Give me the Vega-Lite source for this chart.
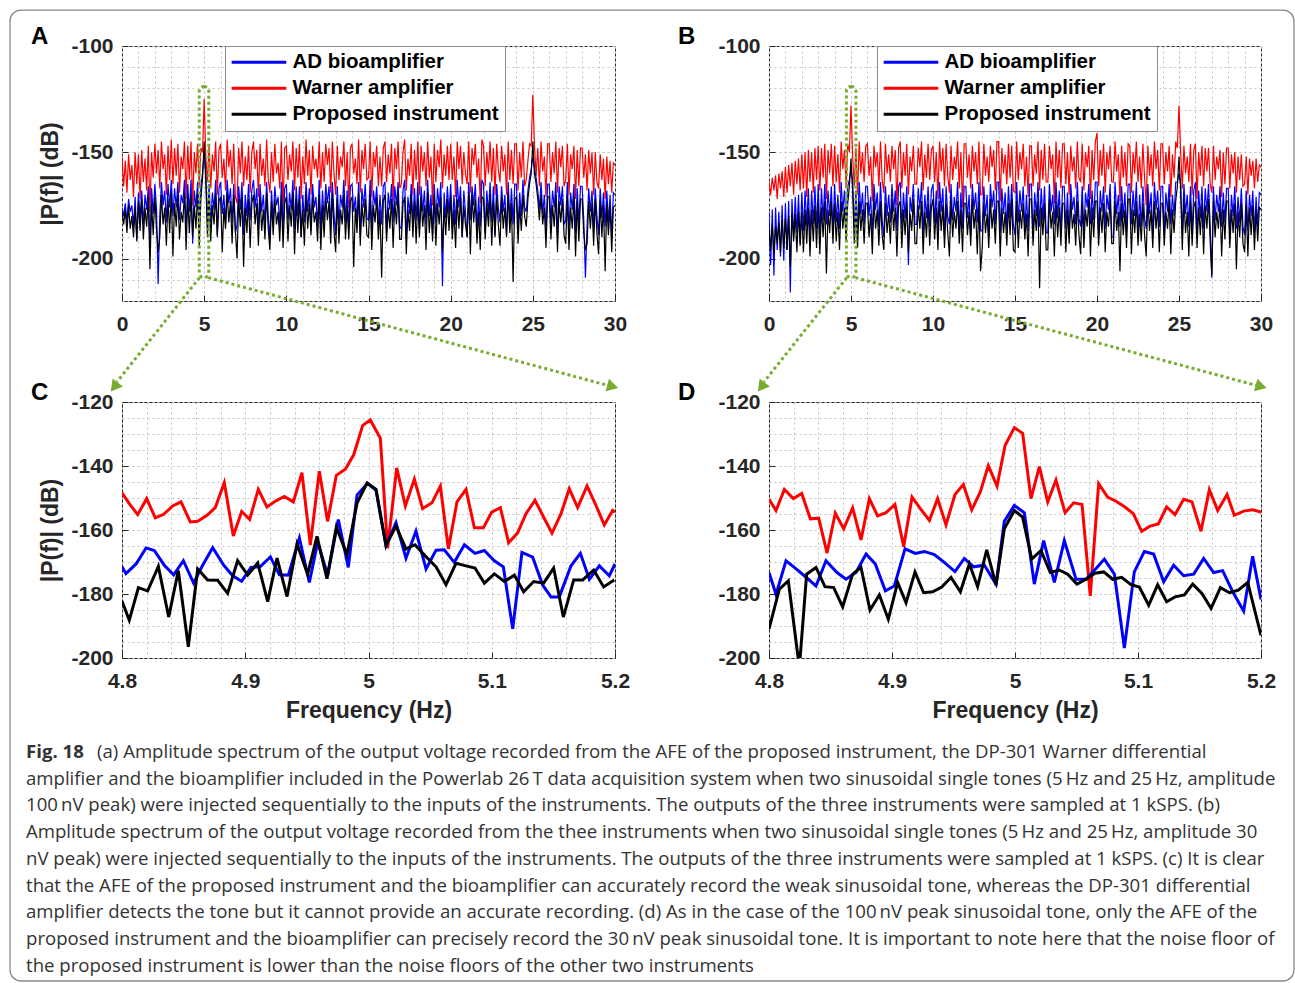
{
"$schema":"https://vega.github.io/schema/vega-lite/v6.json",
"padding":{"left":9,"top":9,"right":2,"bottom":2},
"background":"white",
"columns":2,
"spacing":{"row":101,"column":154},
"bounds":"flush",
"resolve":{"scale":{"color":"independent"},"legend":{"color":"independent"}},
"datasets":{
"specA":[
{"f":0,"W":-152,"AD":-176,"P":-178},{"f":0.1,"W":-166,"AD":-180,"P":-184},{"f":0.2,"W":-154,"AD":-174,"P":-177},{"f":0.3,"W":-169,"AD":-183,"P":-188},{"f":0.4,"W":-151,"AD":-172,"P":-175},{"f":0.5,"W":-163,"AD":-178,"P":-186},{"f":0.6,"W":-156,"AD":-175,"P":-180},{"f":0.7,"W":-171,"AD":-185,"P":-190},{"f":0.8,"W":-150,"AD":-171,"P":-176},{"f":0.9,"W":-165,"AD":-191,"P":-192},
{"f":1,"W":-151,"AD":-169,"P":-173},{"f":1.1,"W":-172,"AD":-181,"P":-187},{"f":1.2,"W":-149,"AD":-168,"P":-172},{"f":1.3,"W":-164,"AD":-184,"P":-191},{"f":1.4,"W":-153,"AD":-170,"P":-176},{"f":1.5,"W":-168,"AD":-177,"P":-185},{"f":1.6,"W":-147,"AD":-166,"P":-171},{"f":1.7,"W":-178,"AD":-195,"P":-205},{"f":1.8,"W":-150,"AD":-167,"P":-174},{"f":1.9,"W":-162,"AD":-179,"P":-189},
{"f":2,"W":-146,"AD":-165,"P":-171},{"f":2.1,"W":-160,"AD":-177,"P":-186},{"f":2.2,"W":-149,"AD":-212,"P":-197},{"f":2.3,"W":-167,"AD":-180,"P":-190},{"f":2.4,"W":-145,"AD":-164,"P":-170},{"f":2.5,"W":-158,"AD":-175,"P":-184},{"f":2.6,"W":-151,"AD":-168,"P":-176},{"f":2.7,"W":-170,"AD":-183,"P":-194},{"f":2.8,"W":-147,"AD":-165,"P":-172},{"f":2.9,"W":-163,"AD":-176,"P":-188},
{"f":3,"W":-144,"AD":-163,"P":-169},{"f":3.1,"W":-165,"AD":-180,"P":-199},{"f":3.2,"W":-148,"AD":-167,"P":-174},{"f":3.3,"W":-161,"AD":-176,"P":-185},{"f":3.4,"W":-146,"AD":-164,"P":-170},{"f":3.5,"W":-169,"AD":-182,"P":-191},{"f":3.6,"W":-152,"AD":-170,"P":-178},{"f":3.7,"W":-158,"AD":-174,"P":-183},{"f":3.8,"W":-145,"AD":-163,"P":-169},{"f":3.9,"W":-172,"AD":-187,"P":-196},
{"f":4,"W":-147,"AD":-165,"P":-171},{"f":4.1,"W":-163,"AD":-178,"P":-188},{"f":4.2,"W":-145,"AD":-163,"P":-170},{"f":4.3,"W":-175,"AD":-193,"P":-190},{"f":4.4,"W":-150,"AD":-168,"P":-175},{"f":4.5,"W":-160,"AD":-176,"P":-186},{"f":4.6,"W":-146,"AD":-164,"P":-169},{"f":4.7,"W":-166,"AD":-181,"P":-194},{"f":4.8,"W":-148,"AD":-166,"P":-172},{"f":4.9,"W":-150,"AD":-160,"P":-162},
{"f":5,"W":-125,"AD":-150,"P":-145},{"f":5.1,"W":-152,"AD":-161,"P":-163},{"f":5.2,"W":-164,"AD":-182,"P":-190},{"f":5.3,"W":-147,"AD":-165,"P":-171},{"f":5.4,"W":-167,"AD":-185,"P":-192},{"f":5.5,"W":-151,"AD":-169,"P":-175},{"f":5.6,"W":-159,"AD":-177,"P":-184},{"f":5.7,"W":-145,"AD":-163,"P":-170},{"f":5.8,"W":-170,"AD":-190,"P":-189},{"f":5.9,"W":-149,"AD":-167,"P":-173},
{"f":6,"W":-146,"AD":-164,"P":-171},{"f":6.1,"W":-162,"AD":-179,"P":-197},{"f":6.2,"W":-153,"AD":-170,"P":-176},{"f":6.3,"W":-168,"AD":-184,"P":-186},{"f":6.4,"W":-144,"AD":-163,"P":-169},{"f":6.5,"W":-157,"AD":-174,"P":-183},{"f":6.6,"W":-149,"AD":-167,"P":-173},{"f":6.7,"W":-165,"AD":-183,"P":-193},{"f":6.8,"W":-146,"AD":-165,"P":-170},{"f":6.9,"W":-171,"AD":-188,"P":-187},
{"f":7,"W":-174,"AD":-184,"P":-200},{"f":7.1,"W":-148,"AD":-166,"P":-172},{"f":7.2,"W":-160,"AD":-177,"P":-185},{"f":7.3,"W":-145,"AD":-164,"P":-171},{"f":7.4,"W":-166,"AD":-189,"P":-204},{"f":7.5,"W":-152,"AD":-170,"P":-176},{"f":7.6,"W":-163,"AD":-180,"P":-188},{"f":7.7,"W":-147,"AD":-165,"P":-172},{"f":7.8,"W":-169,"AD":-182,"P":-195},{"f":7.9,"W":-150,"AD":-168,"P":-174},
{"f":8,"W":-145,"AD":-163,"P":-170},{"f":8.1,"W":-158,"AD":-176,"P":-184},{"f":8.2,"W":-149,"AD":-167,"P":-174},{"f":8.3,"W":-171,"AD":-186,"P":-194},{"f":8.4,"W":-146,"AD":-165,"P":-171},{"f":8.5,"W":-161,"AD":-178,"P":-187},{"f":8.6,"W":-153,"AD":-170,"P":-177},{"f":8.7,"W":-166,"AD":-184,"P":-191},{"f":8.8,"W":-144,"AD":-164,"P":-169},{"f":8.9,"W":-163,"AD":-180,"P":-186},
{"f":9,"W":-169,"AD":-191,"P":-196},{"f":9.1,"W":-150,"AD":-168,"P":-173},{"f":9.2,"W":-164,"AD":-183,"P":-189},{"f":9.3,"W":-146,"AD":-166,"P":-172},{"f":9.4,"W":-160,"AD":-175,"P":-184},{"f":9.5,"W":-155,"AD":-171,"P":-178},{"f":9.6,"W":-167,"AD":-185,"P":-192},{"f":9.7,"W":-145,"AD":-164,"P":-170},{"f":9.8,"W":-177,"AD":-188,"P":-195},{"f":9.9,"W":-148,"AD":-167,"P":-174},
{"f":10,"W":-147,"AD":-165,"P":-171},{"f":10.1,"W":-163,"AD":-182,"P":-192},{"f":10.2,"W":-151,"AD":-169,"P":-175},{"f":10.3,"W":-159,"AD":-177,"P":-185},{"f":10.4,"W":-145,"AD":-163,"P":-169},{"f":10.5,"W":-168,"AD":-186,"P":-198},{"f":10.6,"W":-148,"AD":-166,"P":-172},{"f":10.7,"W":-162,"AD":-180,"P":-188},{"f":10.8,"W":-146,"AD":-166,"P":-172},{"f":10.9,"W":-172,"AD":-190,"P":-190},
{"f":11,"W":-152,"AD":-170,"P":-177},{"f":11.1,"W":-165,"AD":-183,"P":-194},{"f":11.2,"W":-144,"AD":-164,"P":-170},{"f":11.3,"W":-161,"AD":-178,"P":-186},{"f":11.4,"W":-149,"AD":-167,"P":-174},{"f":11.5,"W":-170,"AD":-187,"P":-189},{"f":11.6,"W":-147,"AD":-165,"P":-171},{"f":11.7,"W":-158,"AD":-176,"P":-183},{"f":11.8,"W":-153,"AD":-171,"P":-178},{"f":11.9,"W":-162,"AD":-185,"P":-192},
{"f":12,"W":-145,"AD":-163,"P":-170},{"f":12.1,"W":-167,"AD":-187,"P":-196},{"f":12.2,"W":-150,"AD":-168,"P":-175},{"f":12.3,"W":-164,"AD":-182,"P":-190},{"f":12.4,"W":-146,"AD":-165,"P":-171},{"f":12.5,"W":-156,"AD":-174,"P":-182},{"f":12.6,"W":-148,"AD":-166,"P":-173},{"f":12.7,"W":-169,"AD":-185,"P":-193},{"f":12.8,"W":-145,"AD":-164,"P":-169},{"f":12.9,"W":-160,"AD":-179,"P":-187},
{"f":13,"W":-170,"AD":-189,"P":-197},{"f":13.1,"W":-147,"AD":-166,"P":-172},{"f":13.2,"W":-163,"AD":-184,"P":-193},{"f":13.3,"W":-152,"AD":-170,"P":-177},{"f":13.4,"W":-157,"AD":-176,"P":-184},{"f":13.5,"W":-145,"AD":-163,"P":-170},{"f":13.6,"W":-166,"AD":-183,"P":-191},{"f":13.7,"W":-150,"AD":-168,"P":-175},{"f":13.8,"W":-176,"AD":-186,"P":-191},{"f":13.9,"W":-148,"AD":-166,"P":-173},
{"f":14,"W":-146,"AD":-165,"P":-171},{"f":14.1,"W":-160,"AD":-178,"P":-204},{"f":14.2,"W":-153,"AD":-171,"P":-176},{"f":14.3,"W":-165,"AD":-183,"P":-188},{"f":14.4,"W":-144,"AD":-164,"P":-169},{"f":14.5,"W":-169,"AD":-190,"P":-194},{"f":14.6,"W":-149,"AD":-167,"P":-174},{"f":14.7,"W":-158,"AD":-176,"P":-185},{"f":14.8,"W":-146,"AD":-165,"P":-172},{"f":14.9,"W":-163,"AD":-181,"P":-189},
{"f":15,"W":-162,"AD":-182,"P":-190},{"f":15.1,"W":-145,"AD":-163,"P":-170},{"f":15.2,"W":-171,"AD":-187,"P":-196},{"f":15.3,"W":-150,"AD":-168,"P":-175},{"f":15.4,"W":-157,"AD":-175,"P":-183},{"f":15.5,"W":-147,"AD":-166,"P":-171},{"f":15.6,"W":-166,"AD":-184,"P":-191},{"f":15.7,"W":-152,"AD":-170,"P":-177},{"f":15.8,"W":-166,"AD":-184,"P":-209},{"f":15.9,"W":-148,"AD":-166,"P":-173},
{"f":16,"W":-145,"AD":-164,"P":-170},{"f":16.1,"W":-164,"AD":-188,"P":-192},{"f":16.2,"W":-151,"AD":-169,"P":-176},{"f":16.3,"W":-160,"AD":-177,"P":-186},{"f":16.4,"W":-146,"AD":-165,"P":-172},{"f":16.5,"W":-173,"AD":-183,"P":-195},{"f":16.6,"W":-148,"AD":-166,"P":-173},{"f":16.7,"W":-158,"AD":-175,"P":-184},{"f":16.8,"W":-145,"AD":-164,"P":-169},{"f":16.9,"W":-167,"AD":-185,"P":-191},
{"f":17,"W":-165,"AD":-186,"P":-191},{"f":17.1,"W":-150,"AD":-168,"P":-174},{"f":17.2,"W":-144,"AD":-163,"P":-171},{"f":17.3,"W":-168,"AD":-191,"P":-198},{"f":17.4,"W":-153,"AD":-171,"P":-177},{"f":17.5,"W":-161,"AD":-179,"P":-187},{"f":17.6,"W":-146,"AD":-165,"P":-170},{"f":17.7,"W":-170,"AD":-184,"P":-190},{"f":17.8,"W":-149,"AD":-167,"P":-173},{"f":17.9,"W":-163,"AD":-182,"P":-193},
{"f":18,"W":-145,"AD":-164,"P":-172},{"f":18.1,"W":-170,"AD":-187,"P":-190},{"f":18.2,"W":-147,"AD":-166,"P":-171},{"f":18.3,"W":-159,"AD":-178,"P":-185},{"f":18.4,"W":-150,"AD":-168,"P":-175},{"f":18.5,"W":-166,"AD":-184,"P":-196},{"f":18.6,"W":-145,"AD":-163,"P":-169},{"f":18.7,"W":-162,"AD":-180,"P":-188},{"f":18.8,"W":-152,"AD":-170,"P":-176},{"f":18.9,"W":-175,"AD":-189,"P":-192},
{"f":19,"W":-146,"AD":-165,"P":-170},{"f":19.1,"W":-164,"AD":-183,"P":-194},{"f":19.2,"W":-149,"AD":-167,"P":-174},{"f":19.3,"W":-157,"AD":-176,"P":-184},{"f":19.4,"W":-144,"AD":-164,"P":-171},{"f":19.5,"W":-167,"AD":-213,"P":-197},{"f":19.6,"W":-151,"AD":-169,"P":-176},{"f":19.7,"W":-161,"AD":-181,"P":-189},{"f":19.8,"W":-147,"AD":-166,"P":-172},{"f":19.9,"W":-163,"AD":-179,"P":-187},
{"f":20,"W":-146,"AD":-165,"P":-170},{"f":20.1,"W":-163,"AD":-186,"P":-191},{"f":20.2,"W":-152,"AD":-170,"P":-177},{"f":20.3,"W":-171,"AD":-184,"P":-195},{"f":20.4,"W":-145,"AD":-163,"P":-172},{"f":20.5,"W":-158,"AD":-176,"P":-186},{"f":20.6,"W":-147,"AD":-166,"P":-171},{"f":20.7,"W":-165,"AD":-190,"P":-190},{"f":20.8,"W":-150,"AD":-168,"P":-175},{"f":20.9,"W":-160,"AD":-178,"P":-184},
{"f":21,"W":-165,"AD":-190,"P":-190},{"f":21.1,"W":-145,"AD":-164,"P":-169},{"f":21.2,"W":-169,"AD":-182,"P":-198},{"f":21.3,"W":-148,"AD":-166,"P":-170},{"f":21.4,"W":-156,"AD":-175,"P":-183},{"f":21.5,"W":-146,"AD":-165,"P":-172},{"f":21.6,"W":-162,"AD":-187,"P":-193},{"f":21.7,"W":-153,"AD":-171,"P":-178},{"f":21.8,"W":-174,"AD":-185,"P":-196},{"f":21.9,"W":-144,"AD":-163,"P":-171},
{"f":22,"W":-147,"AD":-165,"P":-172},{"f":22.1,"W":-166,"AD":-188,"P":-191},{"f":22.2,"W":-150,"AD":-168,"P":-174},{"f":22.3,"W":-160,"AD":-179,"P":-185},{"f":22.4,"W":-145,"AD":-164,"P":-170},{"f":22.5,"W":-164,"AD":-183,"P":-194},{"f":22.6,"W":-148,"AD":-166,"P":-173},{"f":22.7,"W":-170,"AD":-189,"P":-190},{"f":22.8,"W":-146,"AD":-165,"P":-171},{"f":22.9,"W":-158,"AD":-176,"P":-184},
{"f":23,"W":-164,"AD":-183,"P":-194},{"f":23.1,"W":-147,"AD":-166,"P":-171},{"f":23.2,"W":-159,"AD":-178,"P":-186},{"f":23.3,"W":-151,"AD":-170,"P":-176},{"f":23.4,"W":-170,"AD":-189,"P":-190},{"f":23.5,"W":-145,"AD":-164,"P":-169},{"f":23.6,"W":-163,"AD":-182,"P":-188},{"f":23.7,"W":-149,"AD":-167,"P":-174},{"f":23.8,"W":-165,"AD":-184,"P":-211},{"f":23.9,"W":-146,"AD":-165,"P":-172},
{"f":24,"W":-146,"AD":-165,"P":-171},{"f":24.1,"W":-168,"AD":-186,"P":-193},{"f":24.2,"W":-150,"AD":-169,"P":-175},{"f":24.3,"W":-162,"AD":-180,"P":-187},{"f":24.4,"W":-145,"AD":-163,"P":-170},{"f":24.5,"W":-166,"AD":-176,"P":-180},{"f":24.6,"W":-163,"AD":-178,"P":-185},{"f":24.7,"W":-154,"AD":-168,"P":-172},{"f":24.8,"W":-146,"AD":-162,"P":-165},{"f":24.9,"W":-147,"AD":-158,"P":-160},
{"f":25,"W":-123,"AD":-152,"P":-145},{"f":25.1,"W":-147,"AD":-158,"P":-160},{"f":25.2,"W":-161,"AD":-162,"P":-165},{"f":25.3,"W":-148,"AD":-168,"P":-172},{"f":25.4,"W":-166,"AD":-177,"P":-182},{"f":25.5,"W":-145,"AD":-164,"P":-170},{"f":25.6,"W":-159,"AD":-179,"P":-184},{"f":25.7,"W":-152,"AD":-170,"P":-176},{"f":25.8,"W":-171,"AD":-187,"P":-195},{"f":25.9,"W":-146,"AD":-165,"P":-171},
{"f":26,"W":-146,"AD":-165,"P":-171},{"f":26.1,"W":-164,"AD":-183,"P":-191},{"f":26.2,"W":-150,"AD":-168,"P":-175},{"f":26.3,"W":-160,"AD":-176,"P":-185},{"f":26.4,"W":-145,"AD":-164,"P":-170},{"f":26.5,"W":-169,"AD":-190,"P":-197},{"f":26.6,"W":-148,"AD":-166,"P":-173},{"f":26.7,"W":-157,"AD":-175,"P":-183},{"f":26.8,"W":-147,"AD":-166,"P":-172},{"f":26.9,"W":-166,"AD":-184,"P":-189},
{"f":27,"W":-163,"AD":-182,"P":-193},{"f":27.1,"W":-146,"AD":-164,"P":-170},{"f":27.2,"W":-170,"AD":-188,"P":-196},{"f":27.3,"W":-151,"AD":-169,"P":-176},{"f":27.4,"W":-158,"AD":-177,"P":-186},{"f":27.5,"W":-147,"AD":-165,"P":-171},{"f":27.6,"W":-172,"AD":-188,"P":-199},{"f":27.7,"W":-149,"AD":-167,"P":-173},{"f":27.8,"W":-166,"AD":-184,"P":-192},{"f":27.9,"W":-148,"AD":-166,"P":-172},
{"f":28,"W":-148,"AD":-166,"P":-172},{"f":28.1,"W":-162,"AD":-182,"P":-188},{"f":28.2,"W":-151,"AD":-209,"P":-196},{"f":28.3,"W":-168,"AD":-185,"P":-193},{"f":28.4,"W":-149,"AD":-167,"P":-173},{"f":28.5,"W":-160,"AD":-178,"P":-186},{"f":28.6,"W":-150,"AD":-168,"P":-174},{"f":28.7,"W":-170,"AD":-186,"P":-194},{"f":28.8,"W":-150,"AD":-167,"P":-172},{"f":28.9,"W":-164,"AD":-180,"P":-188},
{"f":29,"W":-167,"AD":-189,"P":-198},{"f":29.1,"W":-151,"AD":-167,"P":-173},{"f":29.2,"W":-163,"AD":-181,"P":-190},{"f":29.3,"W":-153,"AD":-169,"P":-175},{"f":29.4,"W":-172,"AD":-185,"P":-206},{"f":29.5,"W":-152,"AD":-168,"P":-174},{"f":29.6,"W":-165,"AD":-183,"P":-189},{"f":29.7,"W":-154,"AD":-170,"P":-175},{"f":29.8,"W":-169,"AD":-190,"P":-197},{"f":29.9,"W":-155,"AD":-169,"P":-176},
{"f":30,"W":-156,"AD":-170,"P":-175}],
"specB":[
{"f":0,"W":-164,"AD":-178,"P":-186},{"f":0.1,"W":-170,"AD":-203,"P":-196},{"f":0.2,"W":-162,"AD":-177,"P":-184},{"f":0.3,"W":-168,"AD":-208,"P":-198},{"f":0.4,"W":-161,"AD":-176,"P":-185},{"f":0.5,"W":-172,"AD":-196,"P":-193},{"f":0.6,"W":-160,"AD":-178,"P":-183},{"f":0.7,"W":-167,"AD":-199,"P":-197},{"f":0.8,"W":-159,"AD":-175,"P":-182},{"f":0.9,"W":-171,"AD":-201,"P":-195},
{"f":1,"W":-157,"AD":-174,"P":-181},{"f":1.1,"W":-169,"AD":-196,"P":-196},{"f":1.2,"W":-156,"AD":-173,"P":-180},{"f":1.3,"W":-166,"AD":-216,"P":-204},{"f":1.4,"W":-155,"AD":-172,"P":-179},{"f":1.5,"W":-170,"AD":-190,"P":-192},{"f":1.6,"W":-154,"AD":-171,"P":-179},{"f":1.7,"W":-165,"AD":-188,"P":-197},{"f":1.8,"W":-153,"AD":-170,"P":-178},{"f":1.9,"W":-168,"AD":-193,"P":-194},
{"f":2,"W":-151,"AD":-169,"P":-178},{"f":2.1,"W":-167,"AD":-187,"P":-197},{"f":2.2,"W":-150,"AD":-168,"P":-177},{"f":2.3,"W":-171,"AD":-185,"P":-193},{"f":2.4,"W":-149,"AD":-167,"P":-176},{"f":2.5,"W":-164,"AD":-190,"P":-199},{"f":2.6,"W":-150,"AD":-168,"P":-177},{"f":2.7,"W":-169,"AD":-184,"P":-192},{"f":2.8,"W":-148,"AD":-166,"P":-175},{"f":2.9,"W":-163,"AD":-186,"P":-195},
{"f":3,"W":-147,"AD":-165,"P":-174},{"f":3.1,"W":-168,"AD":-189,"P":-198},{"f":3.2,"W":-148,"AD":-167,"P":-176},{"f":3.3,"W":-162,"AD":-182,"P":-190},{"f":3.4,"W":-146,"AD":-165,"P":-173},{"f":3.5,"W":-172,"AD":-184,"P":-207},{"f":3.6,"W":-149,"AD":-168,"P":-177},{"f":3.7,"W":-160,"AD":-180,"P":-188},{"f":3.8,"W":-146,"AD":-166,"P":-173},{"f":3.9,"W":-166,"AD":-188,"P":-193},
{"f":4,"W":-147,"AD":-165,"P":-174},{"f":4.1,"W":-164,"AD":-183,"P":-192},{"f":4.2,"W":-151,"AD":-170,"P":-178},{"f":4.3,"W":-169,"AD":-186,"P":-196},{"f":4.4,"W":-145,"AD":-164,"P":-173},{"f":4.5,"W":-158,"AD":-178,"P":-186},{"f":4.6,"W":-149,"AD":-168,"P":-176},{"f":4.7,"W":-166,"AD":-183,"P":-192},{"f":4.8,"W":-146,"AD":-166,"P":-174},{"f":4.9,"W":-150,"AD":-163,"P":-166},
{"f":5,"W":-128,"AD":-158,"P":-153},{"f":5.1,"W":-152,"AD":-164,"P":-168},{"f":5.2,"W":-166,"AD":-185,"P":-193},{"f":5.3,"W":-148,"AD":-168,"P":-176},{"f":5.4,"W":-170,"AD":-187,"P":-195},{"f":5.5,"W":-145,"AD":-164,"P":-173},{"f":5.6,"W":-160,"AD":-179,"P":-187},{"f":5.7,"W":-150,"AD":-169,"P":-177},{"f":5.8,"W":-164,"AD":-184,"P":-193},{"f":5.9,"W":-147,"AD":-166,"P":-174},
{"f":6,"W":-146,"AD":-166,"P":-174},{"f":6.1,"W":-161,"AD":-180,"P":-190},{"f":6.2,"W":-152,"AD":-171,"P":-179},{"f":6.3,"W":-173,"AD":-189,"P":-198},{"f":6.4,"W":-147,"AD":-165,"P":-172},{"f":6.5,"W":-157,"AD":-177,"P":-186},{"f":6.6,"W":-150,"AD":-169,"P":-177},{"f":6.7,"W":-166,"AD":-185,"P":-194},{"f":6.8,"W":-145,"AD":-164,"P":-173},{"f":6.9,"W":-163,"AD":-182,"P":-189},
{"f":7,"W":-169,"AD":-190,"P":-196},{"f":7.1,"W":-146,"AD":-166,"P":-174},{"f":7.2,"W":-160,"AD":-180,"P":-188},{"f":7.3,"W":-151,"AD":-170,"P":-178},{"f":7.4,"W":-164,"AD":-183,"P":-193},{"f":7.5,"W":-147,"AD":-165,"P":-172},{"f":7.6,"W":-158,"AD":-178,"P":-187},{"f":7.7,"W":-149,"AD":-168,"P":-176},{"f":7.8,"W":-175,"AD":-187,"P":-199},{"f":7.9,"W":-148,"AD":-166,"P":-175},
{"f":8,"W":-145,"AD":-164,"P":-173},{"f":8.1,"W":-167,"AD":-186,"P":-195},{"f":8.2,"W":-150,"AD":-169,"P":-177},{"f":8.3,"W":-161,"AD":-181,"P":-189},{"f":8.4,"W":-146,"AD":-166,"P":-174},{"f":8.5,"W":-170,"AD":-203,"P":-197},{"f":8.6,"W":-152,"AD":-171,"P":-179},{"f":8.7,"W":-159,"AD":-178,"P":-187},{"f":8.8,"W":-147,"AD":-165,"P":-172},{"f":8.9,"W":-165,"AD":-184,"P":-193},
{"f":9,"W":-165,"AD":-184,"P":-193},{"f":9.1,"W":-148,"AD":-167,"P":-175},{"f":9.2,"W":-157,"AD":-177,"P":-186},{"f":9.3,"W":-145,"AD":-164,"P":-173},{"f":9.4,"W":-168,"AD":-189,"P":-198},{"f":9.5,"W":-151,"AD":-170,"P":-178},{"f":9.6,"W":-162,"AD":-181,"P":-190},{"f":9.7,"W":-146,"AD":-166,"P":-174},{"f":9.8,"W":-163,"AD":-185,"P":-194},{"f":9.9,"W":-149,"AD":-168,"P":-176},
{"f":10,"W":-147,"AD":-165,"P":-172},{"f":10.1,"W":-164,"AD":-183,"P":-191},{"f":10.2,"W":-150,"AD":-168,"P":-176},{"f":10.3,"W":-172,"AD":-187,"P":-196},{"f":10.4,"W":-145,"AD":-164,"P":-173},{"f":10.5,"W":-159,"AD":-178,"P":-187},{"f":10.6,"W":-148,"AD":-167,"P":-175},{"f":10.7,"W":-166,"AD":-190,"P":-195},{"f":10.8,"W":-146,"AD":-166,"P":-174},{"f":10.9,"W":-161,"AD":-180,"P":-188},
{"f":11,"W":-169,"AD":-184,"P":-199},{"f":11.1,"W":-147,"AD":-165,"P":-172},{"f":11.2,"W":-163,"AD":-182,"P":-190},{"f":11.3,"W":-152,"AD":-171,"P":-178},{"f":11.4,"W":-158,"AD":-178,"P":-186},{"f":11.5,"W":-145,"AD":-164,"P":-173},{"f":11.6,"W":-167,"AD":-188,"P":-193},{"f":11.7,"W":-150,"AD":-169,"P":-177},{"f":11.8,"W":-176,"AD":-186,"P":-197},{"f":11.9,"W":-146,"AD":-166,"P":-174},
{"f":12,"W":-146,"AD":-166,"P":-174},{"f":12.1,"W":-162,"AD":-181,"P":-189},{"f":12.2,"W":-151,"AD":-170,"P":-178},{"f":12.3,"W":-167,"AD":-189,"P":-194},{"f":12.4,"W":-147,"AD":-165,"P":-172},{"f":12.5,"W":-159,"AD":-177,"P":-186},{"f":12.6,"W":-150,"AD":-169,"P":-177},{"f":12.7,"W":-165,"AD":-183,"P":-198},{"f":12.8,"W":-145,"AD":-164,"P":-173},{"f":12.9,"W":-170,"AD":-187,"P":-206},
{"f":13,"W":-170,"AD":-187,"P":-195},{"f":13.1,"W":-146,"AD":-166,"P":-174},{"f":13.2,"W":-161,"AD":-180,"P":-188},{"f":13.3,"W":-152,"AD":-170,"P":-179},{"f":13.4,"W":-164,"AD":-190,"P":-195},{"f":13.5,"W":-147,"AD":-165,"P":-172},{"f":13.6,"W":-157,"AD":-176,"P":-186},{"f":13.7,"W":-149,"AD":-168,"P":-177},{"f":13.8,"W":-168,"AD":-184,"P":-193},{"f":13.9,"W":-145,"AD":-164,"P":-173},
{"f":14,"W":-145,"AD":-164,"P":-173},{"f":14.1,"W":-173,"AD":-188,"P":-199},{"f":14.2,"W":-148,"AD":-167,"P":-176},{"f":14.3,"W":-160,"AD":-179,"P":-188},{"f":14.4,"W":-151,"AD":-169,"P":-178},{"f":14.5,"W":-165,"AD":-186,"P":-194},{"f":14.6,"W":-146,"AD":-166,"P":-174},{"f":14.7,"W":-162,"AD":-181,"P":-189},{"f":14.8,"W":-147,"AD":-165,"P":-172},{"f":14.9,"W":-168,"AD":-184,"P":-196},
{"f":15,"W":-169,"AD":-189,"P":-197},{"f":15.1,"W":-145,"AD":-164,"P":-173},{"f":15.2,"W":-163,"AD":-183,"P":-195},{"f":15.3,"W":-150,"AD":-168,"P":-177},{"f":15.4,"W":-158,"AD":-178,"P":-186},{"f":15.5,"W":-146,"AD":-166,"P":-174},{"f":15.6,"W":-166,"AD":-187,"P":-191},{"f":15.7,"W":-152,"AD":-170,"P":-179},{"f":15.8,"W":-171,"AD":-187,"P":-199},{"f":15.9,"W":-147,"AD":-165,"P":-172},
{"f":16,"W":-147,"AD":-165,"P":-172},{"f":16.1,"W":-166,"AD":-190,"P":-194},{"f":16.2,"W":-151,"AD":-169,"P":-177},{"f":16.3,"W":-160,"AD":-180,"P":-187},{"f":16.4,"W":-145,"AD":-164,"P":-173},{"f":16.5,"W":-168,"AD":-185,"P":-214},{"f":16.6,"W":-149,"AD":-167,"P":-176},{"f":16.7,"W":-163,"AD":-182,"P":-189},{"f":16.8,"W":-146,"AD":-166,"P":-174},{"f":16.9,"W":-164,"AD":-188,"P":-196},
{"f":17,"W":-164,"AD":-188,"P":-196},{"f":17.1,"W":-147,"AD":-165,"P":-172},{"f":17.2,"W":-158,"AD":-178,"P":-186},{"f":17.3,"W":-151,"AD":-170,"P":-178},{"f":17.4,"W":-174,"AD":-184,"P":-199},{"f":17.5,"W":-145,"AD":-164,"P":-173},{"f":17.6,"W":-162,"AD":-181,"P":-190},{"f":17.7,"W":-149,"AD":-168,"P":-176},{"f":17.8,"W":-167,"AD":-189,"P":-194},{"f":17.9,"W":-146,"AD":-166,"P":-174},
{"f":18,"W":-146,"AD":-166,"P":-174},{"f":18.1,"W":-165,"AD":-186,"P":-197},{"f":18.2,"W":-150,"AD":-169,"P":-177},{"f":18.3,"W":-170,"AD":-190,"P":-193},{"f":18.4,"W":-147,"AD":-165,"P":-172},{"f":18.5,"W":-159,"AD":-177,"P":-186},{"f":18.6,"W":-152,"AD":-171,"P":-179},{"f":18.7,"W":-167,"AD":-184,"P":-194},{"f":18.8,"W":-145,"AD":-164,"P":-173},{"f":18.9,"W":-162,"AD":-181,"P":-189},
{"f":19,"W":-164,"AD":-185,"P":-198},{"f":19.1,"W":-146,"AD":-166,"P":-174},{"f":19.2,"W":-168,"AD":-188,"P":-195},{"f":19.3,"W":-150,"AD":-169,"P":-177},{"f":19.4,"W":-157,"AD":-176,"P":-185},{"f":19.5,"W":-147,"AD":-165,"P":-172},{"f":19.6,"W":-172,"AD":-184,"P":-199},{"f":19.7,"W":-149,"AD":-168,"P":-176},{"f":19.8,"W":-163,"AD":-182,"P":-190},{"f":19.9,"W":-145,"AD":-164,"P":-173},
{"f":20,"W":-141,"AD":-164,"P":-173},{"f":20.1,"W":-166,"AD":-189,"P":-194},{"f":20.2,"W":-149,"AD":-168,"P":-176},{"f":20.3,"W":-161,"AD":-178,"P":-188},{"f":20.4,"W":-146,"AD":-166,"P":-174},{"f":20.5,"W":-169,"AD":-186,"P":-197},{"f":20.6,"W":-150,"AD":-170,"P":-178},{"f":20.7,"W":-158,"AD":-177,"P":-185},{"f":20.8,"W":-147,"AD":-165,"P":-172},{"f":20.9,"W":-164,"AD":-190,"P":-193},
{"f":21,"W":-164,"AD":-190,"P":-193},{"f":21.1,"W":-145,"AD":-164,"P":-173},{"f":21.2,"W":-159,"AD":-179,"P":-187},{"f":21.3,"W":-151,"AD":-170,"P":-178},{"f":21.4,"W":-173,"AD":-185,"P":-206},{"f":21.5,"W":-147,"AD":-166,"P":-174},{"f":21.6,"W":-162,"AD":-181,"P":-189},{"f":21.7,"W":-150,"AD":-169,"P":-177},{"f":21.8,"W":-166,"AD":-188,"P":-195},{"f":21.9,"W":-146,"AD":-165,"P":-172},
{"f":22,"W":-147,"AD":-165,"P":-172},{"f":22.1,"W":-169,"AD":-184,"P":-198},{"f":22.2,"W":-150,"AD":-168,"P":-177},{"f":22.3,"W":-160,"AD":-180,"P":-188},{"f":22.4,"W":-145,"AD":-164,"P":-173},{"f":22.5,"W":-164,"AD":-189,"P":-194},{"f":22.6,"W":-152,"AD":-170,"P":-179},{"f":22.7,"W":-167,"AD":-185,"P":-192},{"f":22.8,"W":-146,"AD":-166,"P":-174},{"f":22.9,"W":-162,"AD":-181,"P":-189},
{"f":23,"W":-175,"AD":-186,"P":-199},{"f":23.1,"W":-147,"AD":-165,"P":-172},{"f":23.2,"W":-161,"AD":-179,"P":-187},{"f":23.3,"W":-151,"AD":-169,"P":-177},{"f":23.4,"W":-166,"AD":-190,"P":-195},{"f":23.5,"W":-145,"AD":-164,"P":-173},{"f":23.6,"W":-158,"AD":-177,"P":-186},{"f":23.7,"W":-149,"AD":-168,"P":-176},{"f":23.8,"W":-168,"AD":-185,"P":-197},{"f":23.9,"W":-146,"AD":-166,"P":-174},
{"f":24,"W":-146,"AD":-166,"P":-174},{"f":24.1,"W":-165,"AD":-188,"P":-194},{"f":24.2,"W":-150,"AD":-169,"P":-178},{"f":24.3,"W":-159,"AD":-178,"P":-186},{"f":24.4,"W":-147,"AD":-165,"P":-172},{"f":24.5,"W":-171,"AD":-184,"P":-198},{"f":24.6,"W":-151,"AD":-170,"P":-177},{"f":24.7,"W":-162,"AD":-180,"P":-188},{"f":24.8,"W":-145,"AD":-164,"P":-173},{"f":24.9,"W":-148,"AD":-164,"P":-166},
{"f":25,"W":-128,"AD":-160,"P":-152},{"f":25.1,"W":-150,"AD":-165,"P":-167},{"f":25.2,"W":-167,"AD":-189,"P":-196},{"f":25.3,"W":-147,"AD":-165,"P":-172},{"f":25.4,"W":-160,"AD":-179,"P":-188},{"f":25.5,"W":-152,"AD":-170,"P":-178},{"f":25.6,"W":-164,"AD":-185,"P":-199},{"f":25.7,"W":-146,"AD":-166,"P":-173},{"f":25.8,"W":-170,"AD":-188,"P":-194},{"f":25.9,"W":-149,"AD":-168,"P":-176},
{"f":26,"W":-146,"AD":-164,"P":-173},{"f":26.1,"W":-172,"AD":-190,"P":-195},{"f":26.2,"W":-150,"AD":-168,"P":-176},{"f":26.3,"W":-161,"AD":-181,"P":-189},{"f":26.4,"W":-147,"AD":-166,"P":-174},{"f":26.5,"W":-166,"AD":-186,"P":-198},{"f":26.6,"W":-148,"AD":-167,"P":-175},{"f":26.7,"W":-159,"AD":-178,"P":-186},{"f":26.8,"W":-148,"AD":-165,"P":-172},{"f":26.9,"W":-165,"AD":-184,"P":-192},
{"f":27,"W":-169,"AD":-209,"P":-208},{"f":27.1,"W":-147,"AD":-166,"P":-173},{"f":27.2,"W":-163,"AD":-182,"P":-190},{"f":27.3,"W":-152,"AD":-170,"P":-178},{"f":27.4,"W":-158,"AD":-178,"P":-186},{"f":27.5,"W":-149,"AD":-166,"P":-174},{"f":27.6,"W":-171,"AD":-185,"P":-199},{"f":27.7,"W":-150,"AD":-169,"P":-177},{"f":27.8,"W":-165,"AD":-183,"P":-191},{"f":27.9,"W":-148,"AD":-167,"P":-173},
{"f":28,"W":-148,"AD":-167,"P":-173},{"f":28.1,"W":-167,"AD":-190,"P":-195},{"f":28.2,"W":-151,"AD":-170,"P":-177},{"f":28.3,"W":-160,"AD":-180,"P":-188},{"f":28.4,"W":-150,"AD":-166,"P":-174},{"f":28.5,"W":-169,"AD":-186,"P":-205},{"f":28.6,"W":-152,"AD":-171,"P":-178},{"f":28.7,"W":-163,"AD":-183,"P":-190},{"f":28.8,"W":-151,"AD":-167,"P":-174},{"f":28.9,"W":-166,"AD":-185,"P":-193},
{"f":29,"W":-165,"AD":-189,"P":-197},{"f":29.1,"W":-152,"AD":-168,"P":-175},{"f":29.2,"W":-170,"AD":-187,"P":-199},{"f":29.3,"W":-153,"AD":-170,"P":-176},{"f":29.4,"W":-161,"AD":-180,"P":-189},{"f":29.5,"W":-154,"AD":-168,"P":-175},{"f":29.6,"W":-167,"AD":-188,"P":-196},{"f":29.7,"W":-153,"AD":-171,"P":-177},{"f":29.8,"W":-164,"AD":-185,"P":-192},{"f":29.9,"W":-156,"AD":-169,"P":-176},
{"f":30,"W":-157,"AD":-170,"P":-177}],
"zoomC":[
{"f":4.8,"s":"W","v":-148.4},{"f":4.8068,"s":"W","v":-152.2},{"f":4.8127,"s":"W","v":-155.2},{"f":4.82,"s":"W","v":-150.2},{"f":4.827,"s":"W","v":-156.2},{"f":4.8338,"s":"W","v":-155.1},{"f":4.8411,"s":"W","v":-152.5},{"f":4.8479,"s":"W","v":-151.2},{"f":4.8554,"s":"W","v":-157.5},{"f":4.8614,"s":"W","v":-157.3},{"f":4.869,"s":"W","v":-155.4},{"f":4.8757,"s":"W","v":-153.0},{"f":4.883,"s":"W","v":-145.2},{"f":4.8903,"s":"W","v":-161.9},{"f":4.8971,"s":"W","v":-154.2},{"f":4.9036,"s":"W","v":-156.7},{"f":4.9106,"s":"W","v":-147.3},{"f":4.9176,"s":"W","v":-152.8},{"f":4.9249,"s":"W","v":-150.9},{"f":4.9317,"s":"W","v":-149.5},{"f":4.939,"s":"W","v":-151.2},{"f":4.946,"s":"W","v":-142.1},{"f":4.9528,"s":"W","v":-164.7},{"f":4.9601,"s":"W","v":-141.6},{"f":4.9668,"s":"W","v":-157.3},{"f":4.9739,"s":"W","v":-142.9},{"f":4.9812,"s":"W","v":-141.0},{"f":4.988,"s":"W","v":-136.5},{"f":4.9953,"s":"W","v":-127.3},{"f":5.0015,"s":"W","v":-125.6},{"f":5.0096,"s":"W","v":-131.3},{"f":5.0155,"s":"W","v":-165.7},{"f":5.0229,"s":"W","v":-140.6},{"f":5.0299,"s":"W","v":-152.5},{"f":5.0372,"s":"W","v":-144.1},{"f":5.0439,"s":"W","v":-153.3},{"f":5.0515,"s":"W","v":-151.5},{"f":5.0583,"s":"W","v":-146.3},{"f":5.0648,"s":"W","v":-165.9},{"f":5.0718,"s":"W","v":-151.2},{"f":5.0791,"s":"W","v":-147.3},{"f":5.0859,"s":"W","v":-159.3},{"f":5.0932,"s":"W","v":-159.3},{"f":5.1,"s":"W","v":-154.4},{"f":5.107,"s":"W","v":-153.0},{"f":5.1137,"s":"W","v":-164.0},{"f":5.121,"s":"W","v":-160.9},{"f":5.1278,"s":"W","v":-154.9},{"f":5.1351,"s":"W","v":-150.7},{"f":5.1421,"s":"W","v":-156.0},{"f":5.1489,"s":"W","v":-161.0},{"f":5.1562,"s":"W","v":-154.9},{"f":5.1629,"s":"W","v":-147.1},{"f":5.1697,"s":"W","v":-153.0},{"f":5.1773,"s":"W","v":-146.2},{"f":5.184,"s":"W","v":-151.8},{"f":5.1913,"s":"W","v":-158.4},{"f":5.1981,"s":"W","v":-153.9},{"f":5.2,"s":"W","v":-154.4},
{"f":4.8,"s":"AD","v":-171.5},{"f":4.8032,"s":"AD","v":-173.6},{"f":4.8114,"s":"AD","v":-170.6},{"f":4.8195,"s":"AD","v":-165.6},{"f":4.8262,"s":"AD","v":-166.4},{"f":4.8343,"s":"AD","v":-171.0},{"f":4.8419,"s":"AD","v":-174.0},{"f":4.8498,"s":"AD","v":-169.6},{"f":4.8581,"s":"AD","v":-176.6},{"f":4.8649,"s":"AD","v":-171.4},{"f":4.8736,"s":"AD","v":-165.5},{"f":4.8825,"s":"AD","v":-171.0},{"f":4.8898,"s":"AD","v":-174.3},{"f":4.8971,"s":"AD","v":-176.0},{"f":4.9047,"s":"AD","v":-171.7},{"f":4.9122,"s":"AD","v":-171.4},{"f":4.9204,"s":"AD","v":-168.4},{"f":4.9277,"s":"AD","v":-174.0},{"f":4.935,"s":"AD","v":-174.1},{"f":4.9439,"s":"AD","v":-162.5},{"f":4.952,"s":"AD","v":-176.4},{"f":4.9588,"s":"AD","v":-163.8},{"f":4.9669,"s":"AD","v":-174.1},{"f":4.9755,"s":"AD","v":-156.7},{"f":4.9836,"s":"AD","v":-171.7},{"f":4.9907,"s":"AD","v":-149.1},{"f":4.9993,"s":"AD","v":-145.4},{"f":5.0061,"s":"AD","v":-147.6},{"f":5.0142,"s":"AD","v":-164.9},{"f":5.0223,"s":"AD","v":-157.7},{"f":5.0304,"s":"AD","v":-168.8},{"f":5.0385,"s":"AD","v":-160.4},{"f":5.0467,"s":"AD","v":-172.2},{"f":5.0548,"s":"AD","v":-166.3},{"f":5.0615,"s":"AD","v":-166.2},{"f":5.0696,"s":"AD","v":-170.1},{"f":5.0778,"s":"AD","v":-164.6},{"f":5.0864,"s":"AD","v":-167.3},{"f":5.094,"s":"AD","v":-166.4},{"f":5.1021,"s":"AD","v":-169.6},{"f":5.1094,"s":"AD","v":-171.5},{"f":5.117,"s":"AD","v":-190.9},{"f":5.1245,"s":"AD","v":-167.0},{"f":5.1332,"s":"AD","v":-168.5},{"f":5.1413,"s":"AD","v":-177.2},{"f":5.1481,"s":"AD","v":-180.9},{"f":5.1548,"s":"AD","v":-180.9},{"f":5.1643,"s":"AD","v":-171.2},{"f":5.1719,"s":"AD","v":-167.3},{"f":5.1792,"s":"AD","v":-175.4},{"f":5.1873,"s":"AD","v":-171.2},{"f":5.1954,"s":"AD","v":-174.3},{"f":5.2,"s":"AD","v":-170.6},
{"f":4.8,"s":"P","v":-182.2},{"f":4.8059,"s":"P","v":-188.2},{"f":4.8133,"s":"P","v":-178.0},{"f":4.8208,"s":"P","v":-179.0},{"f":4.8295,"s":"P","v":-171.4},{"f":4.8379,"s":"P","v":-187.2},{"f":4.8457,"s":"P","v":-172.7},{"f":4.8538,"s":"P","v":-196.5},{"f":4.8614,"s":"P","v":-172.2},{"f":4.8695,"s":"P","v":-175.6},{"f":4.8776,"s":"P","v":-175.7},{"f":4.8857,"s":"P","v":-179.8},{"f":4.8938,"s":"P","v":-169.6},{"f":4.902,"s":"P","v":-174.1},{"f":4.9101,"s":"P","v":-170.3},{"f":4.9182,"s":"P","v":-182.4},{"f":4.9258,"s":"P","v":-168.8},{"f":4.9339,"s":"P","v":-180.8},{"f":4.942,"s":"P","v":-164.4},{"f":4.9506,"s":"P","v":-173.8},{"f":4.9582,"s":"P","v":-162.0},{"f":4.9663,"s":"P","v":-175.2},{"f":4.9739,"s":"P","v":-159.1},{"f":4.9825,"s":"P","v":-167.7},{"f":4.9907,"s":"P","v":-151.6},{"f":4.9988,"s":"P","v":-145.3},{"f":5.0061,"s":"P","v":-147.3},{"f":5.0142,"s":"P","v":-164.9},{"f":5.0223,"s":"P","v":-158.8},{"f":5.0304,"s":"P","v":-165.9},{"f":5.0377,"s":"P","v":-164.6},{"f":5.0458,"s":"P","v":-168.0},{"f":5.0548,"s":"P","v":-171.5},{"f":5.0629,"s":"P","v":-177.1},{"f":5.071,"s":"P","v":-170.4},{"f":5.0791,"s":"P","v":-171.2},{"f":5.0864,"s":"P","v":-171.9},{"f":5.094,"s":"P","v":-176.6},{"f":5.1021,"s":"P","v":-173.7},{"f":5.1102,"s":"P","v":-176.1},{"f":5.1183,"s":"P","v":-174.1},{"f":5.1259,"s":"P","v":-179.3},{"f":5.134,"s":"P","v":-176.1},{"f":5.1421,"s":"P","v":-176.6},{"f":5.1502,"s":"P","v":-171.9},{"f":5.1581,"s":"P","v":-187.2},{"f":5.1665,"s":"P","v":-175.6},{"f":5.1738,"s":"P","v":-175.6},{"f":5.1827,"s":"P","v":-172.5},{"f":5.1908,"s":"P","v":-177.8},{"f":5.1994,"s":"P","v":-175.6}],
"zoomD":[
{"f":4.8,"s":"W","v":-150.4},{"f":4.8057,"s":"W","v":-153.9},{"f":4.8125,"s":"W","v":-147.3},{"f":4.8198,"s":"W","v":-150.2},{"f":4.8266,"s":"W","v":-148.6},{"f":4.8336,"s":"W","v":-156.5},{"f":4.8404,"s":"W","v":-156.3},{"f":4.8472,"s":"W","v":-167.2},{"f":4.8539,"s":"W","v":-154.7},{"f":4.8607,"s":"W","v":-159.6},{"f":4.868,"s":"W","v":-153.1},{"f":4.8748,"s":"W","v":-163.1},{"f":4.8816,"s":"W","v":-150.2},{"f":4.8883,"s":"W","v":-155.6},{"f":4.8951,"s":"W","v":-154.6},{"f":4.9024,"s":"W","v":-152.0},{"f":4.9095,"s":"W","v":-165.2},{"f":4.9163,"s":"W","v":-149.7},{"f":4.9236,"s":"W","v":-153.6},{"f":4.9304,"s":"W","v":-157.0},{"f":4.9371,"s":"W","v":-150.2},{"f":4.9439,"s":"W","v":-158.4},{"f":4.9512,"s":"W","v":-148.9},{"f":4.958,"s":"W","v":-145.8},{"f":4.9648,"s":"W","v":-153.7},{"f":4.9718,"s":"W","v":-148.1},{"f":4.9783,"s":"W","v":-139.9},{"f":4.9854,"s":"W","v":-146.3},{"f":4.9919,"s":"W","v":-133.6},{"f":4.9995,"s":"W","v":-128.0},{"f":5.0062,"s":"W","v":-129.8},{"f":5.013,"s":"W","v":-150.2},{"f":5.0198,"s":"W","v":-140.2},{"f":5.0266,"s":"W","v":-151.2},{"f":5.0333,"s":"W","v":-144.4},{"f":5.0407,"s":"W","v":-154.6},{"f":5.0477,"s":"W","v":-151.5},{"f":5.0545,"s":"W","v":-152.0},{"f":5.0612,"s":"W","v":-180.6},{"f":5.068,"s":"W","v":-145.5},{"f":5.0753,"s":"W","v":-149.7},{"f":5.0821,"s":"W","v":-151.0},{"f":5.0894,"s":"W","v":-152.8},{"f":5.0962,"s":"W","v":-154.9},{"f":5.103,"s":"W","v":-160.4},{"f":5.1098,"s":"W","v":-158.8},{"f":5.1165,"s":"W","v":-158.1},{"f":5.1233,"s":"W","v":-152.8},{"f":5.1301,"s":"W","v":-155.2},{"f":5.1371,"s":"W","v":-150.4},{"f":5.1439,"s":"W","v":-151.2},{"f":5.1512,"s":"W","v":-160.4},{"f":5.158,"s":"W","v":-147.4},{"f":5.1648,"s":"W","v":-153.9},{"f":5.1724,"s":"W","v":-148.9},{"f":5.1783,"s":"W","v":-155.4},{"f":5.1859,"s":"W","v":-154.1},{"f":5.1932,"s":"W","v":-153.7},{"f":5.2,"s":"W","v":-154.4},
{"f":4.8,"s":"AD","v":-173.3},{"f":4.8057,"s":"AD","v":-180.1},{"f":4.8138,"s":"AD","v":-169.6},{"f":4.8206,"s":"AD","v":-171.7},{"f":4.8287,"s":"AD","v":-174.3},{"f":4.8382,"s":"AD","v":-177.5},{"f":4.8463,"s":"AD","v":-169.6},{"f":4.8553,"s":"AD","v":-173.3},{"f":4.8626,"s":"AD","v":-175.4},{"f":4.8707,"s":"AD","v":-173.3},{"f":4.8789,"s":"AD","v":-167.5},{"f":4.8864,"s":"AD","v":-170.6},{"f":4.8946,"s":"AD","v":-179.0},{"f":4.9019,"s":"AD","v":-177.5},{"f":4.9106,"s":"AD","v":-165.9},{"f":4.919,"s":"AD","v":-167.3},{"f":4.9263,"s":"AD","v":-166.7},{"f":4.9344,"s":"AD","v":-167.7},{"f":4.9425,"s":"AD","v":-170.1},{"f":4.9512,"s":"AD","v":-173.0},{"f":4.9588,"s":"AD","v":-168.9},{"f":4.9664,"s":"AD","v":-171.5},{"f":4.9751,"s":"AD","v":-171.0},{"f":4.9846,"s":"AD","v":-177.0},{"f":4.9913,"s":"AD","v":-157.3},{"f":4.9995,"s":"AD","v":-152.3},{"f":5.0076,"s":"AD","v":-154.6},{"f":5.0157,"s":"AD","v":-176.9},{"f":5.0233,"s":"AD","v":-163.3},{"f":5.032,"s":"AD","v":-176.4},{"f":5.0401,"s":"AD","v":-163.3},{"f":5.0496,"s":"AD","v":-175.4},{"f":5.0577,"s":"AD","v":-175.4},{"f":5.0659,"s":"AD","v":-172.0},{"f":5.0726,"s":"AD","v":-169.1},{"f":5.0808,"s":"AD","v":-173.8},{"f":5.0889,"s":"AD","v":-196.9},{"f":5.097,"s":"AD","v":-173.1},{"f":5.1052,"s":"AD","v":-166.7},{"f":5.1127,"s":"AD","v":-167.5},{"f":5.1209,"s":"AD","v":-176.2},{"f":5.129,"s":"AD","v":-171.0},{"f":5.1371,"s":"AD","v":-174.3},{"f":5.1453,"s":"AD","v":-173.8},{"f":5.1534,"s":"AD","v":-168.9},{"f":5.1615,"s":"AD","v":-173.3},{"f":5.1688,"s":"AD","v":-172.7},{"f":5.177,"s":"AD","v":-179.3},{"f":5.1859,"s":"AD","v":-185.3},{"f":5.1932,"s":"AD","v":-168.2},{"f":5.2,"s":"AD","v":-181.7},
{"f":4.8,"s":"P","v":-190.9},{"f":4.8084,"s":"P","v":-178.5},{"f":4.8157,"s":"P","v":-175.9},{"f":4.8247,"s":"P","v":-203},{"f":4.8306,"s":"P","v":-173.8},{"f":4.8382,"s":"P","v":-171.7},{"f":4.8455,"s":"P","v":-177.7},{"f":4.8526,"s":"P","v":-178.0},{"f":4.8599,"s":"P","v":-184.0},{"f":4.868,"s":"P","v":-173.8},{"f":4.8748,"s":"P","v":-171.7},{"f":4.8821,"s":"P","v":-185.0},{"f":4.8897,"s":"P","v":-180.3},{"f":4.897,"s":"P","v":-187.9},{"f":4.9046,"s":"P","v":-176.4},{"f":4.9114,"s":"P","v":-182.7},{"f":4.9187,"s":"P","v":-173.1},{"f":4.9257,"s":"P","v":-179.6},{"f":4.9331,"s":"P","v":-179.3},{"f":4.9404,"s":"P","v":-177.8},{"f":4.948,"s":"P","v":-174.8},{"f":4.9556,"s":"P","v":-179.3},{"f":4.9629,"s":"P","v":-170.6},{"f":4.9696,"s":"P","v":-177.7},{"f":4.977,"s":"P","v":-166.2},{"f":4.9846,"s":"P","v":-177.2},{"f":4.9913,"s":"P","v":-159.6},{"f":4.9995,"s":"P","v":-153.9},{"f":5.0062,"s":"P","v":-156.0},{"f":5.0136,"s":"P","v":-169.1},{"f":5.0211,"s":"P","v":-166.4},{"f":5.0287,"s":"P","v":-173.3},{"f":5.036,"s":"P","v":-172.5},{"f":5.0428,"s":"P","v":-173.8},{"f":5.0504,"s":"P","v":-176.9},{"f":5.0577,"s":"P","v":-175.4},{"f":5.065,"s":"P","v":-173.5},{"f":5.0721,"s":"P","v":-173.1},{"f":5.0794,"s":"P","v":-175.4},{"f":5.0867,"s":"P","v":-174.8},{"f":5.0943,"s":"P","v":-177.1},{"f":5.1011,"s":"P","v":-177.8},{"f":5.1087,"s":"P","v":-183.5},{"f":5.116,"s":"P","v":-177.1},{"f":5.1233,"s":"P","v":-182.4},{"f":5.1301,"s":"P","v":-180.9},{"f":5.1377,"s":"P","v":-180.3},{"f":5.1445,"s":"P","v":-176.9},{"f":5.152,"s":"P","v":-179.8},{"f":5.1594,"s":"P","v":-184.5},{"f":5.167,"s":"P","v":-178.0},{"f":5.1743,"s":"P","v":-179.6},{"f":5.1816,"s":"P","v":-178.8},{"f":5.1892,"s":"P","v":-176.4},{"f":5.2,"s":"P","v":-192.9}],
"caption":[
{"line":1,"part":"label","t":"Fig. 18"},
{"line":1,"part":"first","t":"(a) Amplitude spectrum of the output voltage recorded from the AFE of the proposed instrument, the DP-301 Warner differential"},
{"line":2,"part":"body","t":"amplifier and the bioamplifier included in the Powerlab 26\u2009T data acquisition system when two sinusoidal single tones (5\u2009Hz and 25\u2009Hz, amplitude"},
{"line":3,"part":"body","t":"100\u2009nV peak) were injected sequentially to the inputs of the instruments. The outputs of the three instruments were sampled at 1 kSPS. (b)"},
{"line":4,"part":"body","t":"Amplitude spectrum of the output voltage recorded from the thee instruments when two sinusoidal single tones (5\u2009Hz and 25\u2009Hz, amplitude 30"},
{"line":5,"part":"body","t":"nV peak) were injected sequentially to the inputs of the instruments. The outputs of the three instruments were sampled at 1 kSPS. (c) It is clear"},
{"line":6,"part":"body","t":"that the AFE of the proposed instrument and the bioamplifier can accurately record the weak sinusoidal tone, whereas the DP-301 differential"},
{"line":7,"part":"body","t":"amplifier detects the tone but it cannot provide an accurate recording. (d) As in the case of the 100\u2009nV peak sinusoidal tone, only the AFE of the"},
{"line":8,"part":"body","t":"proposed instrument and the bioamplifier can precisely record the 30\u2009nV peak sinusoidal tone. It is important to note here that the noise floor of"},
{"line":9,"part":"body","t":"the proposed instrument is lower than the noise floors of the other two instruments"}]
},
"concat":[
{"width":493,"height":255,"title":{"text":"A"},
 "resolve":{"axis":{"x":"independent","y":"independent"}},
 "layer":[
  {"data":{"name":"specA"},"transform":[{"fold":["W","AD","P"],"as":["s","v"]}],
   "mark":{"type":"line","strokeWidth":1.2,"clip":true},
   "encoding":{
    "x":{"field":"f","type":"quantitative","scale":{"domain":[0,30],"nice":false,"zero":false},
      "axis":{"orient":"bottom","values":[0,5,10,15,20,25,30],"labelExpr":"toString(datum.value)","labelOverlap":false,"labelFlush":false,"title":null}},
    "y":{"field":"v","type":"quantitative","scale":{"domain":[-220,-100],"nice":false,"zero":false},
      "axis":{"orient":"left","values":[-200,-150,-100],"labelExpr":"toString(datum.value)","labelOverlap":false,"labelFlush":false,"title":"|P(f)| (dB)"}},
    "color":{"field":"s","type":"nominal","scale":{"domain":["AD","W","P"],"range":["#0000ff","#ff0000","#000000"]},
      "legend":{"orient":"none","legendX":103,"legendY":0,"title":null,"symbolType":"M-1.6,0H7.5","symbolSize":144,"symbolStrokeWidth":3,"symbolFillColor":"transparent","labelFont":"Liberation Sans","labelFontWeight":"bold","labelFontSize":20.5,"labelColor":"#000000","labelLimit":400,"fillColor":"#ffffff","strokeColor":"#8c8c8c","padding":6,"rowPadding":5,"labelOffset":41,"labelExpr":"datum.label == 'AD' ? 'AD bioamplifier' : datum.label == 'W' ? 'Warner amplifier' : 'Proposed instrument'"}}}},
  {"data":{"values":[{}]},"mark":{"type":"rect","filled":false,"stroke":"#77ac30","strokeWidth":3,"strokeDash":[3,3],"cornerRadius":5,"clip":false},
   "encoding":{"x":{"datum":4.7,"type":"quantitative","axis":{"orient":"bottom","values":[0,1,2,3,4,5,6,7,8,9,10,11,12,13,14,15,16,17,18,19,20,21,22,23,24,25,26,27,28,29,30],"labels":false,"ticks":false,"domain":false,"grid":true,"title":null}},"x2":{"datum":5.28},
    "y":{"datum":-119,"type":"quantitative","axis":{"orient":"left","values":[-220,-210,-200,-190,-180,-170,-160,-150,-140,-130,-120,-110,-100],"labels":false,"ticks":false,"domain":false,"grid":true,"title":null}},"y2":{"datum":-209}}},
  {"data":{"values":[{}]},"mark":{"type":"rule","stroke":"#77ac30","strokeWidth":3,"strokeDash":[3,3],"clip":false},
   "encoding":{"x":{"datum":4.72,"type":"quantitative","axis":null},"y":{"datum":-209,"type":"quantitative","axis":null},"x2":{"datum":-0.3},"y2":{"datum":-258}}},
  {"data":{"values":[{}]},"mark":{"type":"rule","stroke":"#77ac30","strokeWidth":3,"strokeDash":[3,3],"clip":false},
   "encoding":{"x":{"datum":5.25,"type":"quantitative","axis":null},"y":{"datum":-209,"type":"quantitative","axis":null},"x2":{"datum":29.6},"y2":{"datum":-259.8}}},
  {"data":{"values":[{}]},"mark":{"type":"point","shape":"triangle","filled":true,"color":"#77ac30","opacity":1,"size":170,"angle":218,"clip":false},
   "encoding":{"x":{"datum":-0.4,"type":"quantitative","axis":null},"y":{"datum":-259.8,"type":"quantitative","axis":null}}},
  {"data":{"values":[{}]},"mark":{"type":"point","shape":"triangle","filled":true,"color":"#77ac30","opacity":1,"size":170,"angle":105,"clip":false},
   "encoding":{"x":{"datum":29.75,"type":"quantitative","axis":null},"y":{"datum":-260,"type":"quantitative","axis":null}}}
 ]},
{"width":492,"height":255,"title":{"text":"B"},
 "resolve":{"axis":{"x":"independent","y":"independent"}},
 "layer":[
  {"data":{"name":"specB"},"transform":[{"fold":["W","AD","P"],"as":["s","v"]}],
   "mark":{"type":"line","strokeWidth":1.2,"clip":true},
   "encoding":{
    "x":{"field":"f","type":"quantitative","scale":{"domain":[0,30],"nice":false,"zero":false},
      "axis":{"orient":"bottom","values":[0,5,10,15,20,25,30],"labelExpr":"toString(datum.value)","labelOverlap":false,"labelFlush":false,"title":null}},
    "y":{"field":"v","type":"quantitative","scale":{"domain":[-220,-100],"nice":false,"zero":false},
      "axis":{"orient":"left","values":[-200,-150,-100],"labelExpr":"toString(datum.value)","labelOverlap":false,"labelFlush":false,"title":null}},
    "color":{"field":"s","type":"nominal","scale":{"domain":["AD","W","P"],"range":["#0000ff","#ff0000","#000000"]},
      "legend":{"orient":"none","legendX":108,"legendY":0,"title":null,"symbolType":"M-1.6,0H7.5","symbolSize":144,"symbolStrokeWidth":3,"symbolFillColor":"transparent","labelFont":"Liberation Sans","labelFontWeight":"bold","labelFontSize":20.5,"labelColor":"#000000","labelLimit":400,"fillColor":"#ffffff","strokeColor":"#8c8c8c","padding":6,"rowPadding":5,"labelOffset":41,"labelExpr":"datum.label == 'AD' ? 'AD bioamplifier' : datum.label == 'W' ? 'Warner amplifier' : 'Proposed instrument'"}}}},
  {"data":{"values":[{}]},"mark":{"type":"rect","filled":false,"stroke":"#77ac30","strokeWidth":3,"strokeDash":[3,3],"cornerRadius":5,"clip":false},
   "encoding":{"x":{"datum":4.72,"type":"quantitative","axis":{"orient":"bottom","values":[0,1,2,3,4,5,6,7,8,9,10,11,12,13,14,15,16,17,18,19,20,21,22,23,24,25,26,27,28,29,30],"labels":false,"ticks":false,"domain":false,"grid":true,"title":null}},"x2":{"datum":5.3},
    "y":{"datum":-119,"type":"quantitative","axis":{"orient":"left","values":[-220,-210,-200,-190,-180,-170,-160,-150,-140,-130,-120,-110,-100],"labels":false,"ticks":false,"domain":false,"grid":true,"title":null}},"y2":{"datum":-209}}},
  {"data":{"values":[{}]},"mark":{"type":"rule","stroke":"#77ac30","strokeWidth":3,"strokeDash":[3,3],"clip":false},
   "encoding":{"x":{"datum":4.74,"type":"quantitative","axis":null},"y":{"datum":-209,"type":"quantitative","axis":null},"x2":{"datum":-0.3},"y2":{"datum":-258}}},
  {"data":{"values":[{}]},"mark":{"type":"rule","stroke":"#77ac30","strokeWidth":3,"strokeDash":[3,3],"clip":false},
   "encoding":{"x":{"datum":5.27,"type":"quantitative","axis":null},"y":{"datum":-209,"type":"quantitative","axis":null},"x2":{"datum":29.75},"y2":{"datum":-259.8}}},
  {"data":{"values":[{}]},"mark":{"type":"point","shape":"triangle","filled":true,"color":"#77ac30","opacity":1,"size":170,"angle":218,"clip":false},
   "encoding":{"x":{"datum":-0.4,"type":"quantitative","axis":null},"y":{"datum":-259.8,"type":"quantitative","axis":null}}},
  {"data":{"values":[{}]},"mark":{"type":"point","shape":"triangle","filled":true,"color":"#77ac30","opacity":1,"size":170,"angle":105,"clip":false},
   "encoding":{"x":{"datum":29.9,"type":"quantitative","axis":null},"y":{"datum":-260,"type":"quantitative","axis":null}}}
 ]},
{"width":493,"height":256,"title":{"text":"C"},
 "layer":[
  {"data":{"name":"zoomC"},"mark":{"type":"line","strokeWidth":3,"clip":true},
   "encoding":{
    "x":{"field":"f","type":"quantitative","scale":{"domain":[4.8,5.2],"nice":false,"zero":false},
      "axis":{"values":[4.8,4.82,4.84,4.86,4.88,4.9,4.92,4.94,4.96,4.98,5,5.02,5.04,5.06,5.08,5.1,5.12,5.14,5.16,5.18,5.2],"labelExpr":"abs(datum.value*10 - round(datum.value*10)) < 0.001 ? format(datum.value, '.1~f') : ''","labelOverlap":false,"labelFlush":false,"tickOpacity":{"condition":{"test":"abs(datum.value*10 - round(datum.value*10)) < 0.001","value":1},"value":0},"title":"Frequency (Hz)"}},
    "y":{"field":"v","type":"quantitative","scale":{"domain":[-200,-120],"nice":false,"zero":false},
      "axis":{"values":[-200,-195,-190,-185,-180,-175,-170,-165,-160,-155,-150,-145,-140,-135,-130,-125,-120],"labelExpr":"datum.value % 20 === 0 ? toString(datum.value) : ''","labelOverlap":false,"labelFlush":false,"tickOpacity":{"condition":{"test":"datum.value % 20 === 0","value":1},"value":0},"title":"|P(f)| (dB)"}},
    "color":{"field":"s","type":"nominal","scale":{"domain":["AD","W","P"],"range":["#0000ff","#ff0000","#000000"]},"legend":null}}}
 ]},
{"width":492,"height":256,"title":{"text":"D"},
 "layer":[
  {"data":{"name":"zoomD"},"mark":{"type":"line","strokeWidth":3,"clip":true},
   "encoding":{
    "x":{"field":"f","type":"quantitative","scale":{"domain":[4.8,5.2],"nice":false,"zero":false},
      "axis":{"values":[4.8,4.82,4.84,4.86,4.88,4.9,4.92,4.94,4.96,4.98,5,5.02,5.04,5.06,5.08,5.1,5.12,5.14,5.16,5.18,5.2],"labelExpr":"abs(datum.value*10 - round(datum.value*10)) < 0.001 ? format(datum.value, '.1~f') : ''","labelOverlap":false,"labelFlush":false,"tickOpacity":{"condition":{"test":"abs(datum.value*10 - round(datum.value*10)) < 0.001","value":1},"value":0},"title":"Frequency (Hz)"}},
    "y":{"field":"v","type":"quantitative","scale":{"domain":[-200,-120],"nice":false,"zero":false},
      "axis":{"values":[-200,-195,-190,-185,-180,-175,-170,-165,-160,-155,-150,-145,-140,-135,-130,-125,-120],"labelExpr":"datum.value % 20 === 0 ? toString(datum.value) : ''","labelOverlap":false,"labelFlush":false,"tickOpacity":{"condition":{"test":"datum.value % 20 === 0","value":1},"value":0},"title":null}},
    "color":{"field":"s","type":"nominal","scale":{"domain":["AD","W","P"],"range":["#0000ff","#ff0000","#000000"]},"legend":null}}}
 ]},
{"width":493,"height":220,"view":{"stroke":null},
 "layer":[
  {"data":{"values":[{}]},"mark":{"type":"rect","filled":false,"stroke":"#8a8a8a","strokeWidth":1.3,"cornerRadius":11,"clip":false},
   "encoding":{"x":{"datum":-112,"type":"quantitative","scale":{"domain":[0,493],"nice":false,"zero":false},"axis":null},"x2":{"datum":1172},
    "y":{"datum":-26.79,"type":"quantitative","scale":{"domain":[1.262,9.502],"nice":false,"zero":false,"reverse":true},"axis":null},"y2":{"datum":9.577}}},
  {"data":{"name":"caption"},"transform":[{"filter":"datum.part == 'label'"}],
   "mark":{"type":"text","align":"left","baseline":"middle","font":"Open Sans","fontSize":18.6,"fontWeight":"bold","color":"#333333","clip":false},
   "encoding":{"x":{"datum":-96,"type":"quantitative","axis":null},"y":{"field":"line","type":"quantitative","axis":null},"text":{"field":"t"}}},
  {"data":{"name":"caption"},"transform":[{"filter":"datum.part == 'first'"}],
   "mark":{"type":"text","align":"left","baseline":"middle","font":"Open Sans","fontSize":18.6,"color":"#333333","clip":false},
   "encoding":{"x":{"datum":-25,"type":"quantitative","axis":null},"y":{"field":"line","type":"quantitative","axis":null},"text":{"field":"t"}}},
  {"data":{"name":"caption"},"transform":[{"filter":"datum.part == 'body'"}],
   "mark":{"type":"text","align":"left","baseline":"middle","font":"Open Sans","fontSize":18.6,"color":"#333333","clip":false},
   "encoding":{"x":{"datum":-96,"type":"quantitative","axis":null},"y":{"field":"line","type":"quantitative","axis":null},"text":{"field":"t"}}}
 ]}
],
"config":{
 "view":{"stroke":"#262626","strokeWidth":1},
 "axis":{"labelFont":"Liberation Sans","labelFontWeight":"bold","labelFontSize":21,"labelColor":"#262626","labelOverlap":false,"labelFlush":false,"titleFont":"Liberation Sans","titleFontWeight":"bold","titleFontSize":23,"titleColor":"#262626","domain":false,"grid":true,"gridColor":"#c4c4c4","gridDash":[2,3],"gridWidth":1,"ticks":true,"tickColor":"#262626","tickSize":-6,"tickWidth":1},
 "axisX":{"labelPadding":18,"titlePadding":8},
 "axisY":{"labelPadding":15,"titlePadding":8},
 "title":{"font":"Liberation Sans","fontSize":24,"fontWeight":"bold","color":"#000000","anchor":"start","frame":"group","dx":-91,"offset":-14}
}
}
